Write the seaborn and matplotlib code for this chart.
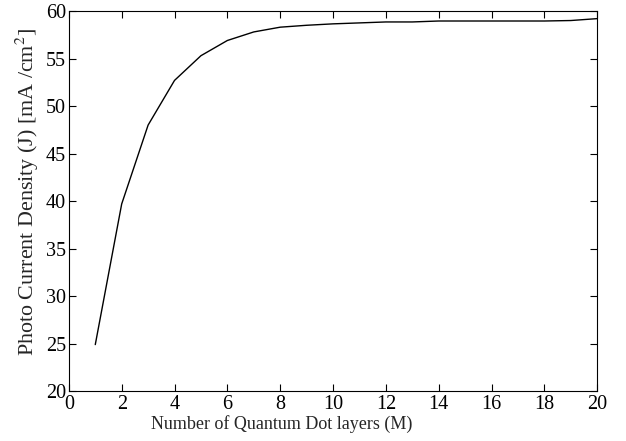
import matplotlib
matplotlib.use("Agg")
import matplotlib.pyplot as plt
import seaborn as sns
import pandas as pd

layers = list(range(1, 21))
current_density = [24.9, 39.7, 48.0, 52.7, 55.3, 56.9, 57.8, 58.3, 58.5, 58.65,
                   58.75, 58.85, 58.85, 58.95, 58.95, 58.95, 58.95, 58.95, 59.0, 59.2]
x_ticks = list(range(0, 21, 2))
y_ticks = list(range(20, 61, 5))

sns.set_style("ticks")
plt.rcParams['font.family'] = ['Liberation Serif', 'DejaVu Serif']
plt.rcParams['mathtext.fontset'] = 'stix'

df = pd.DataFrame({"M": layers, "J": current_density})

fig = plt.figure(figsize=(6.26, 4.41), dpi=100)
ax = fig.add_axes([0.110, 0.113, 0.844, 0.862])
sns.lineplot(data=df, x="M", y="J", ax=ax, color="black", linewidth=1.0)

ax.set_xlim(0, 20)
ax.set_ylim(20, 60)
ax.set_xticks(x_ticks)
ax.set_yticks(y_ticks)
ax.tick_params(direction='in', top=True, right=True, labelsize=14.5, length=5,
               width=0.8, colors='black')
ax.tick_params(axis='y', pad=2)
ax.tick_params(axis='x', pad=3)
for s in ax.spines.values():
    s.set_linewidth(0.8)
    s.set_color('black')
ax.set_xlabel("Number of Quantum Dot layers (M)", fontsize=13)
ax.xaxis.set_label_coords(0.403, -0.062)
ax.set_ylabel(r"Photo Current Density (J) [mA /cm$^{2}$]", fontsize=15.8)
ax.yaxis.set_label_coords(-0.053, 0.524)

fig.savefig("out.png", dpi=100)
